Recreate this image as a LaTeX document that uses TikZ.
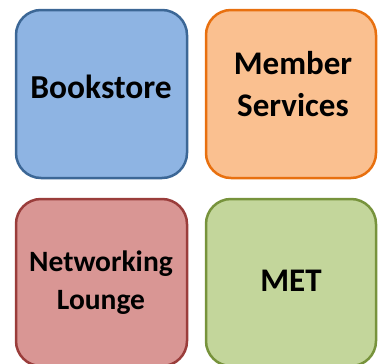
\documentclass[tikz,border=0pt]{standalone}
\usepackage{fontspec}
\setmainfont{Carlito}
\definecolor{bfill}{HTML}{8EB4E3}
\definecolor{bline}{HTML}{3C6796}
\definecolor{ofill}{HTML}{FAC090}
\definecolor{oline}{HTML}{E8700F}
\definecolor{rfill}{HTML}{D99694}
\definecolor{rline}{HTML}{9A3D3B}
\definecolor{gfill}{HTML}{C3D69B}
\definecolor{gline}{HTML}{77933C}
\tikzset{
  room/.style={rectangle, rounded corners=25pt, line width=2.5pt, inner sep=0pt},
  lbl/.style 2 args={inner sep=0pt, font=\bfseries\fontsize{#1}{#2}\selectfont, align=center, text=black}
}
\begin{document}
\begin{tikzpicture}[x=1pt,y=-1pt]
\useasboundingbox (0,0) rectangle (378,364);
\draw[room, fill=bfill, draw=bline] (16,10) rectangle (187,178) node[pos=0.5, name=book]{};
\draw[room, fill=ofill, draw=oline] (206,10) rectangle (376,178) node[pos=0.5, name=mem]{};
\draw[room, fill=rfill, draw=rline] (16,199) rectangle (187,366) node[pos=0.5, name=net]{};
\draw[room, fill=gfill, draw=gline] (206,199) rectangle (376,366) node[pos=0.5, name=met]{};
\node[lbl={33.5}{40}] (tbook) at (101,86.5) {Bookstore};
\node[lbl={33}{42}] (tmem) at (293,84.5) {Member\\Services};
\node[lbl={29.5}{38}] (tnet) at (101,283) {Networking\\Lounge};
\node[lbl={33}{40}] (tmet) at (291,281) {MET};
\end{tikzpicture}
\end{document}
